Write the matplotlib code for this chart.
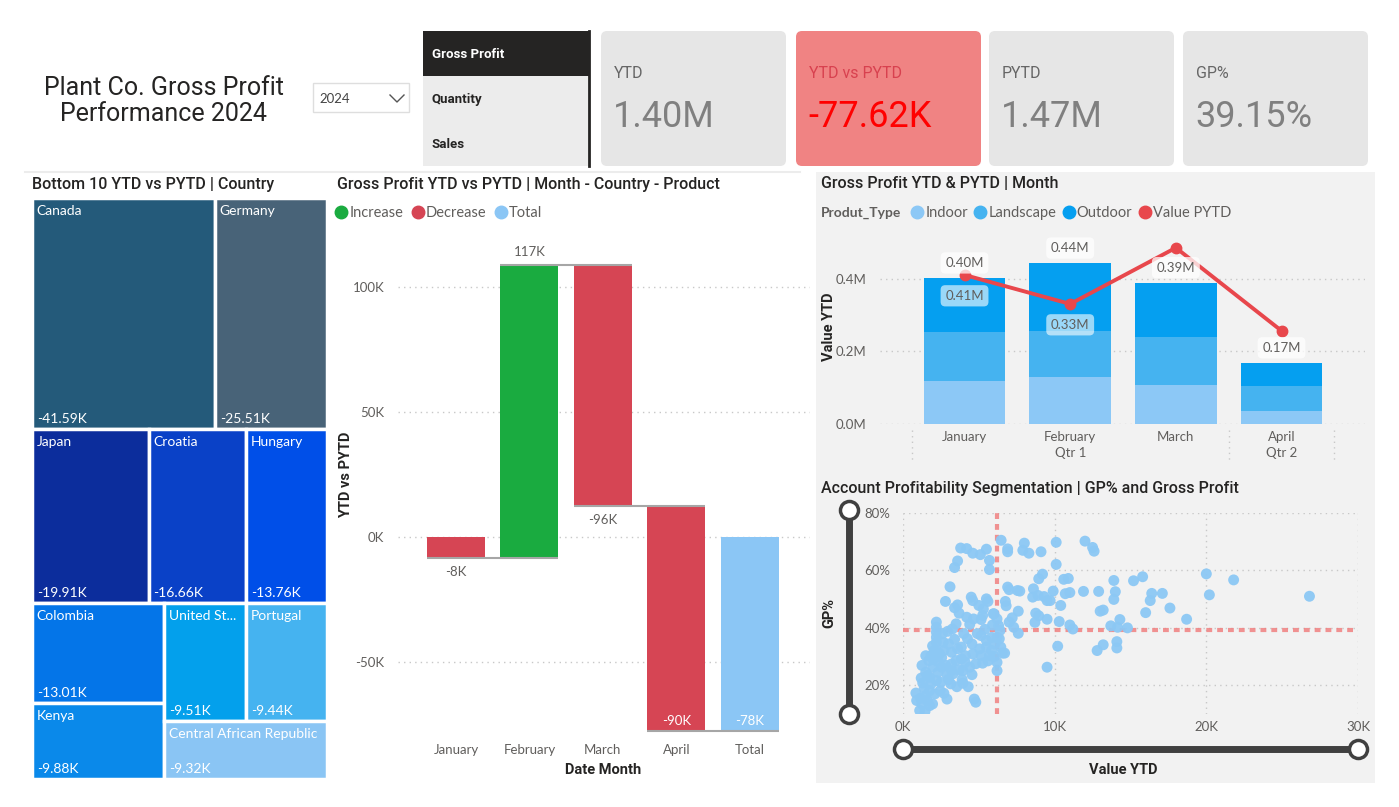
import matplotlib.pyplot as plt
import numpy as np
from matplotlib.patches import Rectangle, FancyBboxPatch
from matplotlib.lines import Line2D
import matplotlib.transforms as mtransforms

W, H = 1399, 807

# ---- data ----
kpi_labels = ["YTD", "YTD vs PYTD", "PYTD", "GP%"]
kpi_values = ["1.40M", "-77.62K", "1.47M", "39.15%"]
buttons = ["Gross Profit", "Quantity", "Sales"]

countries = ["Canada", "Germany", "Japan", "Croatia", "Hungary", "Colombia",
             "Kenya", "United St...", "Portugal", "Central African Republic"]
country_vs_pytd = [-41.59, -25.51, -19.91, -16.66, -13.76, -13.01,
                   -9.88, -9.51, -9.44, -9.32]
country_colors = ["#245a7a", "#486378", "#0c2d9c", "#0a41c7", "#004fe8",
                  "#0475e8", "#0a89ea", "#03a0ec", "#45b3f0", "#8ac5f4"]
# treemap grouping (h = side by side, v = stacked)
tree = ("v", [("h", [0, 1]), ("h", [2, 3, 4]),
              ("h", [("v", [5, 6]), ("v", [("h", [7, 8]), 9])])])

wf_months = ["January", "February", "March", "April"]
wf_changes = [-8.2, 116.9, -96.2, -90.1]  # K
wf_label_pos = ["below", "above", "below", "inside", "inside"]

months = ["January", "February", "March", "April"]
quarters = ["Qtr 1", "Qtr 2"]
quarter_center = [1, 3]
indoor = [0.119, 0.130, 0.108, 0.036]
landscape = [0.135, 0.127, 0.132, 0.069]
outdoor = [0.148, 0.186, 0.149, 0.063]
value_pytd = [0.411, 0.331, 0.486, 0.257]
pytd_label_show = [True, True, False, False]

gp_avg = 39.15
ytd_ref = 6.2
account_points = [
    (6.47, 70.5), (8.0, 69.5), (6.9, 67.5), (6.9, 66.5), (7.9, 67.0), (8.3, 66.0),
    (9.1, 66.5), (10.1, 69.8), (12.0, 70.2), (12.5, 68.0), (12.6, 66.7), (3.8, 67.8),
    (4.2, 67.6), (4.6, 66.0), (5.1, 65.5), (5.5, 67.4), (3.6, 63.3), (3.4, 61.0),
    (5.7, 63.5), (5.7, 60.3), (10.1, 62.1), (3.1, 54.3), (9.2, 58.7), (8.95, 57.1),
    (10.6, 56.9), (10.9, 57.2), (13.9, 56.5), (15.2, 56.4), (15.8, 57.8), (20.0, 58.8),
    (21.8, 56.7), (26.8, 51.0), (20.2, 51.5), (17.1, 52.0), (16.4, 52.0), (16.3, 49.5),
    (17.6, 46.9), (18.7, 43.0), (16.0, 45.3), (14.0, 52.6), (13.9, 49.9), (14.3, 42.9),
    (13.0, 45.8), (13.2, 46.2), (12.9, 52.7), (11.9, 52.7), (11.0, 52.3), (10.7, 51.9),
    (9.9, 52.8), (10.4, 47.8), (10.3, 42.2), (11.0, 41.0), (11.2, 39.6), (9.5, 49.5),
    (9.7, 49.5), (9.3, 50.9), (8.9, 51.3), (8.55, 50.7), (8.6, 53.6), (7.55, 53.0),
    (7.7, 52.8), (6.9, 54.2), (7.0, 53.3), (8.75, 45.1), (8.95, 44.2), (8.7, 41.9),
    (9.5, 43.0), (7.6, 45.8), (7.2, 43.5), (7.0, 42.0), (7.3, 40.2), (7.6, 38.1),
    (6.75, 49.2), (6.8, 47.7), (13.7, 40.7), (14.15, 40.2), (14.8, 40.0), (14.1, 35.2),
    (14.1, 33.0), (13.2, 34.1), (12.8, 32.1), (10.2, 33.6), (9.5, 26.3), (6.2, 25.1),
    (6.2, 28.0), (6.7, 31.2), (6.45, 33.3), (2.8, 49.2), (3.6, 48.0), (3.4, 47.0),
    (3.7, 45.1), (4.5, 50.7), (4.6, 49.5), (5.5, 50.1), (5.6, 49.2), (5.0, 47.8),
    (5.3, 46.6), (6.0, 44.9), (5.25, 44.3), (5.15, 42.9), (4.2, 43.7), (4.65, 43.1),
    (4.4, 41.2), (3.5, 41.4), (3.25, 39.6), (2.95, 38.8), (2.2, 42.0), (2.2, 40.2),
    (2.2, 38.5), (2.2, 36.7), (2.2, 35.0), (2.2, 32.1), (2.65, 35.0), (2.7, 32.1),
    (3.2, 31.5), (3.6, 32.7), (3.85, 33.3), (4.25, 36.2), (4.55, 34.4), (5.05, 32.7),
    (5.5, 33.3), (5.85, 32.1), (6.2, 36.7), (6.05, 34.4), (5.7, 30.3), (5.15, 37.3),
    (5.15, 30.3), (5.25, 27.7), (4.6, 30.9), (4.1, 28.0), (3.85, 29.2), (3.5, 28.6),
    (3.7, 25.3), (3.95, 25.1), (4.4, 26.3), (4.55, 23.7), (3.2, 25.1), (2.9, 23.7),
    (3.15, 20.5), (3.55, 19.5), (3.95, 20.7), (2.55, 26.3), (2.3, 24.5), (1.95, 26.3),
    (1.7, 28.6), (1.5, 30.3), (1.85, 30.3), (2.05, 32.1), (1.25, 26.9), (1.5, 24.5),
    (1.75, 22.8), (1.3, 20.8), (1.85, 20.5), (2.2, 21.6), (2.45, 18.1), (2.7, 17.2),
    (2.9, 15.2), (1.75, 18.1), (1.5, 16.4), (1.15, 15.5), (0.85, 17.3), (0.9, 14.7),
    (1.25, 13.5), (1.75, 12.9), (1.95, 13.5), (1.1, 11.2), (1.45, 10.9), (1.6, 14.7),
    (4.7, 15.2), (4.8, 14.1), (3.2, 27.4), (5.5, 35.6), (5.85, 36.7), (6.35, 36.2),
    (6.55, 31.2), (6.3, 40.8), (6.4, 39.1), (5.95, 44.9), (6.2, 43.1), (3.0, 34.4),
    (4.1, 30.3), (2.55, 29.7), (1.95, 33.7), (1.6, 23.4), (2.3, 28.3), (2.0, 29.0),
    (2.4, 31.0), (2.8, 27.0), (3.3, 24.0), (3.0, 22.0), (2.5, 21.0), (1.4, 19.0),
    (2.1, 17.0), (4.9, 38.0), (5.4, 39.5), (5.9, 41.0), (4.0, 38.0), (3.4, 36.0),
    (2.6, 38.0), (4.8, 27.5), (5.6, 28.5), (6.0, 30.0), (3.9, 22.0), (4.3, 19.5),
    (1.2, 22.5),
]

# ---- style ----
plt.rcParams['font.family'] = ['Lato', 'DejaVu Sans']
TXT = "#605e5c"
DARK = "#252423"
TITLE_FONT = ['Roboto', 'DejaVu Sans']
TW = "medium"


def px_axes(x0, y0, x1, y1, **kw):
    return fig.add_axes([x0 / W, 1 - y1 / H, (x1 - x0) / W, (y1 - y0) / H], **kw)


fig = plt.figure(figsize=(W / 100, H / 100), dpi=100)
fig.patch.set_facecolor("white")

bg = fig.add_axes([0, 0, 1, 1], zorder=-10)
bg.set_xlim(0, W)
bg.set_ylim(H, 0)
bg.axis("off")

# header
bg.text(164, 101, "Plant Co. Gross Profit\nPerformance 2024", ha="center", va="center",
        fontsize=18, family=TITLE_FONT, color=DARK, linespacing=1.08)
bg.add_patch(Rectangle((313, 83), 96, 29, facecolor="white", edgecolor="#dedede", lw=1))
bg.text(319, 99, "2024", va="center", fontsize=9.5, color="#444444")
bg.plot([390, 397, 404], [95, 102, 95], color="#555555", lw=1)

# button slicer
bg.add_patch(Rectangle((423, 31), 167, 45, facecolor=DARK, edgecolor="none"))
bg.add_patch(Rectangle((423, 76), 167, 90, facecolor="#ececec", edgecolor="none"))
bg.plot([589, 589], [31, 166], color=DARK, lw=2)
for i, b in enumerate(buttons):
    bg.text(432, 54 + 45.5 * i, b, va="center", fontsize=9.5, fontweight="bold",
            family=TITLE_FONT, color="white" if i == 0 else DARK)

# KPI cards
card_x = [601, 796, 989, 1183]
for i, (lab, val) in enumerate(zip(kpi_labels, kpi_values)):
    neg = val.startswith("-")
    bg.add_patch(FancyBboxPatch((card_x[i], 31), 185, 135,
                                boxstyle="round,pad=0,rounding_size=6",
                                facecolor="#f08383" if neg else "#e6e6e6", edgecolor="none"))
    bg.text(card_x[i] + 13, 74, lab, va="center", fontsize=11.5, family=TITLE_FONT,
            color="#d8414f" if neg else "#666666")
    bg.text(card_x[i] + 12, 117, val, va="center", fontsize=26, family=TITLE_FONT,
            color="#ff0000" if neg else "#808080")

# panels
bg.plot([25, 800], [172, 172], color="#ececec", lw=1.5)
bg.add_patch(Rectangle((816, 172), 559, 611, facecolor="#f2f2f2", edgecolor="none"))

# ---- treemap ----
bg.text(32, 185, "Bottom 10 YTD vs PYTD | Country", va="center", fontsize=11.5,
        fontweight=TW, family=TITLE_FONT, color=DARK)


def node_value(node):
    if isinstance(node, int):
        return abs(country_vs_pytd[node])
    return sum(node_value(c) for c in node[1])


def layout(node, x0, y0, x1, y1, out):
    if isinstance(node, int):
        out[node] = (x0, y0, x1, y1)
        return
    direction, children = node
    total = node_value(node)
    pos = x0 if direction == "h" else y0
    for c in children:
        frac = node_value(c) / total
        if direction == "h":
            w = (x1 - x0) * frac
            layout(c, pos, y0, pos + w, y1, out)
            pos += w
        else:
            h = (y1 - y0) * frac
            layout(c, x0, pos, x1, pos + h, out)
            pos += h


rects = {}
layout(tree, 0, 0, 1, 1, rects)
axt = px_axes(32, 198, 327, 779)
axt.set_xlim(0, 1)
axt.set_ylim(1, 0)
axt.axis("off")
for i, name in enumerate(countries):
    x0, y0, x1, y1 = rects[i]
    axt.add_patch(Rectangle((x0, y0), x1 - x0, y1 - y0, facecolor=country_colors[i],
                            edgecolor="white", lw=2.5))
    axt.annotate(name, (x0, y0), xytext=(3.5, -5), textcoords="offset points",
                 va="top", fontsize=10, color="white")
    axt.annotate(f"{country_vs_pytd[i]:.2f}K", (x0, y1), xytext=(3.5, 3),
                 textcoords="offset points", va="bottom", fontsize=10, color="white")

# ---- waterfall ----
bg.text(337, 184, "Gross Profit YTD vs PYTD | Month - Country - Product", va="center",
        fontsize=11.5, fontweight=TW, family=TITLE_FONT, color=DARK)
C_INC, C_DEC, C_TOT = "#1aab40", "#d64554", "#8bc6f5"
wf_handles = [Line2D([], [], marker="o", ls="", color=c, markersize=9)
              for c in (C_INC, C_DEC, C_TOT)]
leg_wf = bg.legend(wf_handles, ["Increase", "Decrease", "Total"], loc="center left",
                   bbox_to_anchor=(334, 213), bbox_transform=bg.transData, ncol=3,
                   frameon=False, handletextpad=0.05, columnspacing=0.5, borderpad=0,
                   borderaxespad=0, handlelength=1.0, fontsize=10.5, labelcolor=TXT)
bg.add_artist(leg_wf)

axw = px_axes(398, 235, 810, 740)
cum = np.concatenate([[0], np.cumsum(wf_changes)])
total = cum[-1]
cats = wf_months + ["Total"]
bw = 0.79
for i, ch in enumerate(wf_changes):
    lo, hi = min(cum[i], cum[i + 1]), max(cum[i], cum[i + 1])
    axw.bar(i, hi - lo, bottom=lo, width=bw, color=C_INC if ch > 0 else C_DEC, zorder=2)
axw.bar(len(wf_changes), total, width=bw, color=C_TOT, zorder=2)
for i in range(len(wf_changes)):
    axw.hlines(cum[i + 1], i - bw / 2, i + 1 + bw / 2, color="#a6a6a6", lw=1.5, zorder=3)
values = list(wf_changes) + [total]
for i, v in enumerate(values):
    if i < len(wf_changes):
        lo, hi = min(cum[i], cum[i + 1]), max(cum[i], cum[i + 1])
    else:
        lo, hi = min(0, total), max(0, total)
    txt = f"{v:.0f}K"
    if wf_label_pos[i] == "above":
        axw.annotate(txt, (i, hi), xytext=(0, 5), textcoords="offset points",
                     ha="center", va="bottom", fontsize=9.5, color=TXT)
    elif wf_label_pos[i] == "below":
        axw.annotate(txt, (i, lo), xytext=(0, -6), textcoords="offset points",
                     ha="center", va="top", fontsize=9.5, color=TXT)
    else:
        axw.annotate(txt, (i, lo), xytext=(0, 3), textcoords="offset points",
                     ha="center", va="bottom", fontsize=9.5, color="white")
axw.set_xlim(-0.79, 4.82)
axw.set_ylim(-81.2, 120.8)
axw.set_yticks([-50, 0, 50, 100])
axw.set_yticklabels(["-50K", "0K", "50K", "100K"])
axw.set_xticks(range(len(cats)))
axw.set_xticklabels(cats)
axw.tick_params(length=0, labelsize=9.5, labelcolor=TXT)
axw.tick_params(axis="x", pad=3)
axw.tick_params(axis="y", pad=10)
axw.yaxis.grid(True, linestyle=(0, (1, 3)), color="#c8c8c8", lw=1)
axw.set_axisbelow(True)
for s in axw.spines.values():
    s.set_visible(False)
axw.set_facecolor("none")
axw.set_ylabel("YTD vs PYTD", fontsize=10.5, fontweight="bold", family=TITLE_FONT, color=DARK)
axw.yaxis.set_label_coords(-0.108, 0.525)
axw.set_xlabel("Date Month", fontsize=10.5, fontweight="bold", family=TITLE_FONT, color=DARK)
axw.xaxis.set_label_coords(0.498, -0.046)

# ---- stacked bars + line ----
bg.text(821, 184, "Gross Profit YTD & PYTD | Month", va="center", fontsize=11.5,
        fontweight=TW, family=TITLE_FONT, color=DARK)
C_IN, C_LA, C_OU, C_PY = "#8cc8f6", "#45b3f0", "#059ff0", "#e8474c"
bg.text(821, 213, "Produt_Type", va="center", fontsize=10, fontweight="bold", color=TXT)
bar_handles = [Line2D([], [], marker="o", ls="", color=c, markersize=9)
               for c in (C_IN, C_LA, C_OU, C_PY)]
bg.legend(bar_handles, ["Indoor", "Landscape", "Outdoor", "Value PYTD"], loc="center left",
          bbox_to_anchor=(910, 213), bbox_transform=bg.transData, ncol=4, frameon=False,
          handletextpad=0.05, columnspacing=0.35, borderpad=0, borderaxespad=0,
          handlelength=1.0, fontsize=10.5, labelcolor=TXT)

axb = px_axes(880, 230, 1365, 424)
x = np.arange(len(months))
bw2 = 0.775
indoor_a, land_a, out_a = map(np.array, (indoor, landscape, outdoor))
axb.bar(x, indoor_a, width=bw2, color=C_IN, zorder=2)
axb.bar(x, land_a, bottom=indoor_a, width=bw2, color=C_LA, zorder=2)
axb.bar(x, out_a, bottom=indoor_a + land_a, width=bw2, color=C_OU, zorder=2)
tot = indoor_a + land_a + out_a
axb.plot(x, value_pytd, color=C_PY, lw=2.8, marker="o", markersize=7.5, zorder=4)
for i, t in enumerate(tot):
    axb.annotate(f"{t:.2f}M", (i, t), xytext=(0, 11), textcoords="offset points",
                 ha="center", va="center", fontsize=9.5, color=TXT, zorder=5,
                 bbox=dict(boxstyle="round,pad=0.35", fc="white", ec="none", alpha=0.75))
for i, v in enumerate(value_pytd):
    if pytd_label_show[i]:
        axb.annotate(f"{v:.2f}M", (i, v), xytext=(0, -15), textcoords="offset points",
                     ha="center", va="center", fontsize=9.5, color=TXT, zorder=5,
                     bbox=dict(boxstyle="round,pad=0.35", fc="white", ec="none", alpha=0.6))
axb.set_xlim(-0.8, 3.79)
axb.set_ylim(0, 0.535)
axb.set_yticks([0, 0.2, 0.4])
axb.set_yticklabels(["0.0M", "0.2M", "0.4M"])
axb.set_xticks(x)
axb.set_xticklabels(months)
axb.tick_params(length=0, labelsize=9.5, labelcolor=TXT)
axb.tick_params(axis="x", pad=5)
axb.tick_params(axis="y", pad=10)
axb.yaxis.grid(True, linestyle=(0, (1, 3)), color="#c8c8c8", lw=1)
axb.set_axisbelow(True)
for s in axb.spines.values():
    s.set_visible(False)
axb.set_facecolor("none")
trb = mtransforms.blended_transform_factory(axb.transData, axb.transAxes)
for q, xc in zip(quarters, quarter_center):
    axb.text(xc, -0.149, q, transform=trb, ha="center", va="center", fontsize=9.5, color=TXT)
for xs in (-0.5, 2.5, 3.5):
    axb.plot([xs, xs], [-0.03, -0.2], transform=trb, clip_on=False,
             color="#c8c8c8", lw=1, ls=(0, (1, 3)))
axb.set_ylabel("Value YTD", fontsize=10.5, fontweight="bold", family=TITLE_FONT, color=DARK)
axb.yaxis.set_label_coords(-0.09, 0.5)

# ---- scatter ----
bg.text(821, 489, "Account Profitability Segmentation | GP% and Gross Profit", va="center",
        fontsize=11.5, fontweight=TW, family=TITLE_FONT, color=DARK)
axs = px_axes(903, 513, 1358, 714)
px_, py_ = zip(*account_points)
axs.scatter(px_, py_, s=62, color="#8cc8f5", alpha=0.95, edgecolors="none", zorder=3)
axs.axvline(ytd_ref, color="#f08080", lw=3, ls=(0, (1.4, 1.2)), alpha=0.85, zorder=2)
axs.axhline(gp_avg, color="#f08080", lw=3, ls=(0, (1.4, 1.2)), alpha=0.85, zorder=2)
axs.set_xlim(0, 30)
axs.set_ylim(10, 80)
axs.set_xticks([0, 10, 20, 30])
axs.set_xticklabels(["0K", "10K", "20K", "30K"])
axs.set_yticks([20, 40, 60, 80])
axs.set_yticklabels(["20%", "40%", "60%", "80%"])
axs.tick_params(length=0, labelsize=9.5, labelcolor=TXT)
axs.tick_params(axis="x", pad=5)
axs.tick_params(axis="y", pad=9)
axs.grid(True, linestyle=(0, (1, 3)), color="#c8c8c8", lw=1)
axs.set_axisbelow(True)
for s in axs.spines.values():
    s.set_visible(False)
axs.set_facecolor("none")
# range sliders
axs.plot([-0.119, -0.119], [1.015, 0.0], transform=axs.transAxes, clip_on=False,
         color="#404040", lw=5, solid_capstyle="butt", marker="o", markersize=13,
         markerfacecolor="white", markeredgecolor="#404040", markeredgewidth=2.5)
axs.plot([0.0, 1.0], [-0.174, -0.174], transform=axs.transAxes, clip_on=False,
         color="#404040", lw=5, solid_capstyle="butt", marker="o", markersize=13,
         markerfacecolor="white", markeredgecolor="#404040", markeredgewidth=2.5)
axs.set_ylabel("GP%", fontsize=10.5, fontweight="bold", family=TITLE_FONT, color=DARK)
axs.yaxis.set_label_coords(-0.147, 0.5)
axs.set_xlabel("Value YTD", fontsize=10.5, fontweight="bold", family=TITLE_FONT, color=DARK)
axs.xaxis.set_label_coords(0.484, -0.244)

fig.savefig("out.png", dpi=100)
